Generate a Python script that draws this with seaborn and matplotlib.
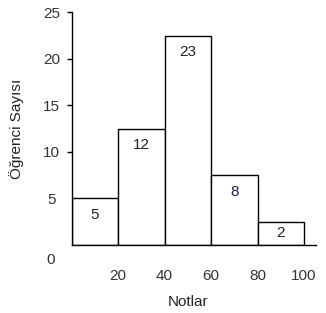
import matplotlib
matplotlib.use("Agg")
import matplotlib.pyplot as plt
import seaborn as sns
import numpy as np

# Data
bin_edges = [0, 20, 40, 60, 80, 100]
bar_heights = [5.0, 12.5, 22.5, 7.5, 2.5]
bar_labels = ["5", "12", "23", "8", "2"]
x_ticks = [20, 40, 60, 80, 100]
y_ticks = [0, 5, 10, 15, 20, 25]

sns.set_style("white")
plt.rcParams['font.family'] = ['Liberation Sans', 'DejaVu Sans']
FS = 11

fig = plt.figure(figsize=(3.26, 3.13), dpi=100)
ax = fig.add_axes([0.22, 0.2173, 0.748, 0.7434])

mids = [(a + b) / 2 for a, b in zip(bin_edges[:-1], bin_edges[1:])]
sns.histplot(x=mids, weights=bar_heights, bins=bin_edges, ax=ax,
             color="white", edgecolor="black", linewidth=1.0, alpha=1)

ax.set_xlim(0, 105)
ax.set_ylim(0, 25)

for s in ["top", "right"]:
    ax.spines[s].set_visible(False)
for s in ["left", "bottom"]:
    ax.spines[s].set_color("black")
    ax.spines[s].set_linewidth(1.0)

# y ticks
ax.set_yticks(y_ticks)
ax.set_yticklabels([str(v) for v in y_ticks])
ax.tick_params(axis="y", direction="out", length=3.6, width=1.0, color="black",
               pad=10.8, labelsize=FS, labelcolor="#333333", left=True)
for lab in ax.get_yticklabels():
    lab.set_horizontalalignment("center")
ticks = ax.yaxis.get_major_ticks()
for t, v in zip(ticks, y_ticks):
    if v in (0, 5):
        t.tick1line.set_visible(False)
    if v == 0:
        t.label1.set_visible(False)
# "0" label drawn lower than the axis, as in the reference
ax.annotate("0", xy=(0, 0), xycoords=ax.get_yaxis_transform(),
            xytext=(-15, -11), textcoords="offset points",
            ha="center", va="center", fontsize=FS, color="#333333")

# x ticks (no tick marks)
ax.set_xticks(x_ticks)
ax.set_xticklabels([str(v) for v in x_ticks])
ax.tick_params(axis="x", length=0, pad=17, labelsize=FS, labelcolor="#333333",
               bottom=True)

ax.set_xlabel("Notlar", fontsize=FS, color="#222222")
ax.xaxis.set_label_coords(50 / 105, -0.215)
ax.set_ylabel("Öğrenci Sayısı", fontsize=FS, color="#222222")
ax.yaxis.set_label_coords(-0.195, 0.5)

# bar labels
label_colors = ["#222222", "#222222", "#222222", "#1c1c4a", "#222222"]
for m, h, lab, c in zip(mids, bar_heights, bar_labels, label_colors):
    if h >= 4:
        ax.annotate(lab, xy=(m, h), xytext=(0, -11.8), textcoords="offset points",
                    ha="center", va="center", fontsize=FS, color=c)
    else:
        ax.annotate(lab, xy=(m, h / 2), ha="center", va="center",
                    fontsize=FS, color=c)

fig.savefig("out.png", dpi=100)
